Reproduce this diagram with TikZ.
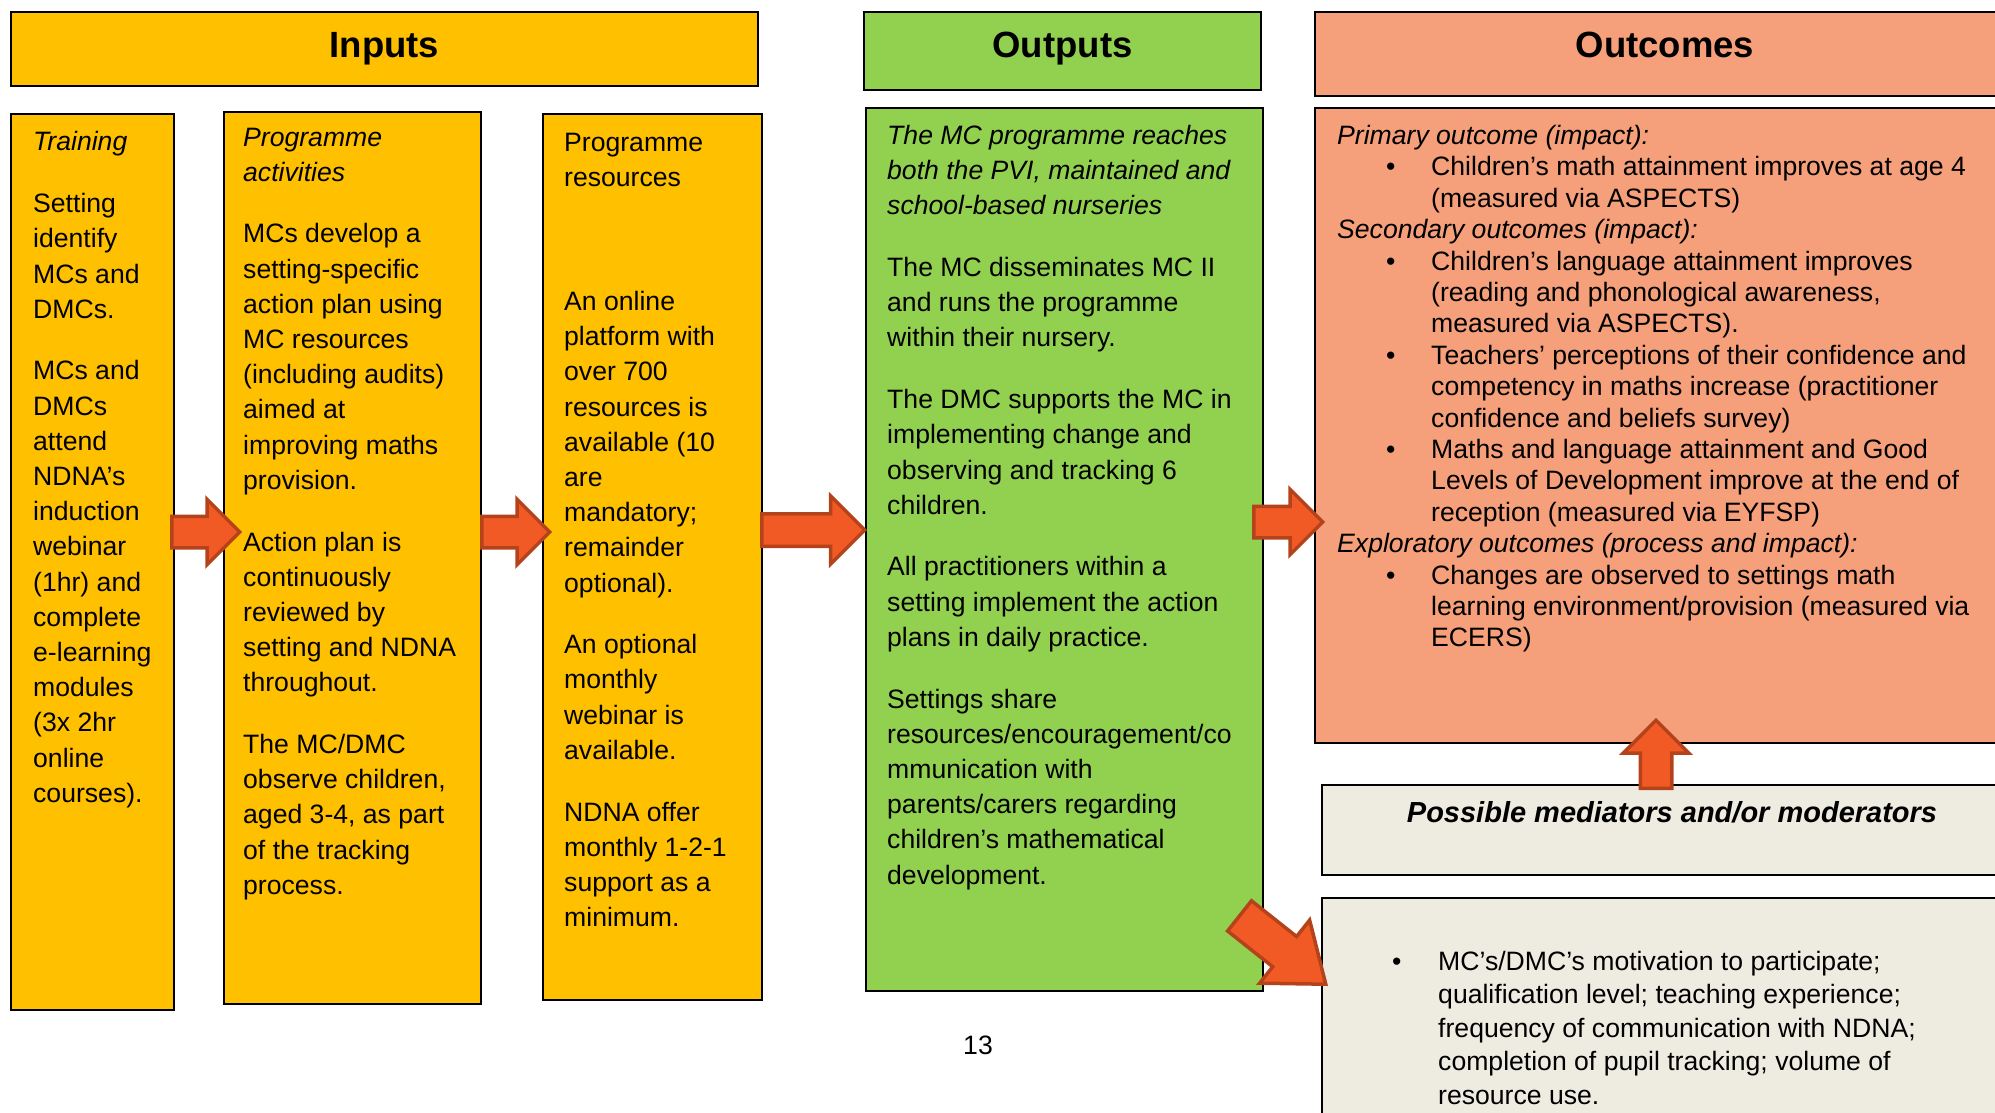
\documentclass[tikz,border=0pt]{standalone}
\usepackage{fontspec}
\setmainfont{Liberation Sans}
\usetikzlibrary{shapes.arrows}

\definecolor{inyellow}{HTML}{FFC000}
\definecolor{outgreen}{HTML}{92D050}
\definecolor{ocsalmon}{HTML}{F5A07A}
\definecolor{medgrey}{HTML}{EEECE1}
\definecolor{arrfill}{HTML}{F15A24}
\definecolor{arrline}{HTML}{B4431B}

\newcommand{\ocitem}{\makebox[94pt][l]{\hspace*{49pt}\textbullet}}
\newcommand{\ocmore}{\hspace*{94pt}}
\newcommand{\meditem}{\makebox[46pt][l]{\textbullet}}
\newcommand{\medmore}{\hspace*{46pt}}

\begin{document}
\begin{tikzpicture}[x=1pt,y=-1pt,
	box/.style={draw=black,line width=2pt,inner sep=0pt,anchor=north west},
	hd/.style={font=\fontsize{36.5}{40}\selectfont\bfseries,inner sep=0pt,anchor=base},
	txt/.style={font=\fontsize{26.6}{35.2}\selectfont,align=left,inner sep=0pt,anchor=north west},
	fat/.style={single arrow,draw=arrline,fill=arrfill,line width=3.5pt,
		inner xsep=0pt,inner ysep=14pt,single arrow head extend=17pt}]

	\fill[white] (0,0) rectangle (1995,1113);
	\useasboundingbox (0,0) rectangle (1995,1113);
	\clip (0,0) rectangle (1995,1113);

	\node[box,fill=inyellow,minimum width=747pt,minimum height=74pt]  (inhead)  at (10,11)  {};
	\node[box,fill=outgreen,minimum width=397pt,minimum height=78pt]  (outhead) at (863,11) {};
	\node[box,fill=ocsalmon,minimum width=700pt,minimum height=84pt]  (ochead)  at (1314,11) {};
	\node[hd] (inlbl)  at (inhead.north |- 0,58)  {Inputs};
	\node[hd] (outlbl) at (outhead.north |- 0,58) {Outputs};
	\node[hd] (oclbl)  at (ochead.north |- 0,58)  {Outcomes};

	\node[box,fill=inyellow,minimum width=163pt,minimum height=896pt] (train)   at (10,113)   {};
	\node[box,fill=inyellow,minimum width=257pt,minimum height=892pt] (act)     at (223,111)  {};
	\node[box,fill=inyellow,minimum width=219pt,minimum height=886pt] (res)     at (542,113)  {};
	\node[box,fill=outgreen,minimum width=397pt,minimum height=883pt] (outbox)  at (865,107)  {};
	\node[box,fill=ocsalmon,minimum width=700pt,minimum height=635pt] (ocbox)   at (1314,107) {};
	\node[box,fill=medgrey,minimum width=700pt,minimum height=90pt]   (medhead) at (1321,784) {};
	\node[box,fill=medgrey,minimum width=700pt,minimum height=240pt]  (medbox)  at (1321,897) {};

	\node[txt] (traintxt) at ([xshift=23pt,yshift=-18.5pt]train.north west) {\textit{Training}\\[26.5pt]
		Setting\\identify\\MCs and\\DMCs.\\[26.5pt]
		MCs and\\DMCs\\attend\\NDNA’s\\induction\\webinar\\(1hr) and\\complete\\e-learning\\modules\\(3x 2hr\\online\\courses).};

	\node[txt] (acttxt) at ([xshift=20pt,yshift=-16.5pt]act.north west) {\textit{Programme}\\\textit{activities}\\[26.5pt]
		MCs develop a\\setting-specific\\action plan using\\MC resources\\(including audits)\\aimed at\\improving maths\\provision.\\[26.5pt]
		Action plan is\\continuously\\reviewed by\\setting and NDNA\\throughout.\\[26.5pt]
		The MC/DMC\\observe children,\\aged 3-4, as part\\of the tracking\\process.};

	\node[txt] (restxt) at ([xshift=22pt,yshift=-19.5pt]res.north west) {Programme\\resources\\[89pt]
		An online\\platform with\\over 700\\resources is\\available (10\\are\\mandatory;\\remainder\\optional).\\[26.5pt]
		An optional\\monthly\\webinar is\\available.\\[26.5pt]
		NDNA offer\\monthly 1-2-1\\support as a\\minimum.};

	\node[txt] (outtxt) at ([xshift=22pt,yshift=-18pt]outbox.north west) {\textit{The MC programme reaches}\\\textit{both the PVI, maintained and}\\\textit{school-based nurseries}\\[26.5pt]
		The MC disseminates MC II\\and runs the programme\\within their nursery.\\[26.5pt]
		The DMC supports the MC in\\implementing change and\\observing and tracking 6\\children.\\[26.5pt]
		All practitioners within a\\setting implement the action\\plans in daily practice.\\[26.5pt]
		Settings share\\resources/encouragement/co\\mmunication with\\parents/carers regarding\\children’s mathematical\\development.};

	\node[txt,font=\fontsize{26.6}{31.4}\selectfont] (octxt) at ([xshift=23pt,yshift=-18pt]ocbox.north west) {\textit{Primary outcome (impact):}\\
		\ocitem Children’s math attainment improves at age 4\\
		\ocmore (measured via ASPECTS)\\
		\textit{Secondary outcomes (impact):}\\
		\ocitem Children’s language attainment improves\\
		\ocmore (reading and phonological awareness,\\
		\ocmore measured via ASPECTS).\\
		\ocitem Teachers’ perceptions of their confidence and\\
		\ocmore competency in maths increase (practitioner\\
		\ocmore confidence and beliefs survey)\\
		\ocitem Maths and language attainment and Good\\
		\ocmore Levels of Development improve at the end of\\
		\ocmore reception (measured via EYFSP)\\
		\textit{Exploratory outcomes (process and impact):}\\
		\ocitem Changes are observed to settings math\\
		\ocmore learning environment/provision (measured via\\
		\ocmore ECERS)};

	\node[inner sep=0pt,anchor=base,font=\fontsize{29}{34}\selectfont\bfseries\itshape] (medlbl) at (medhead.north |- 0,822) {Possible mediators and/or moderators};

	\node[txt,font=\fontsize{26.6}{33.4}\selectfont] (medtxt) at ([xshift=71pt,yshift=-54pt]medbox.north west) {\meditem MC’s/DMC’s motivation to participate;\\
		\medmore qualification level; teaching experience;\\
		\medmore frequency of communication with NDNA;\\
		\medmore completion of pupil tracking; volume of\\
		\medmore resource use.};

	\node[inner sep=0pt,anchor=base,font=\fontsize{26.6}{32}\selectfont] (pgno) at (978,1054) {13};

	\node[fat,minimum height=68pt,anchor=tail]  (a1) at ([xshift=-5pt]train.east |- 0,532) {};
	\node[fat,minimum height=68pt,anchor=tail]  (a2) at ([xshift=-2pt]act.east |- 0,532) {};
	\node[fat,minimum height=103pt,anchor=tail,inner ysep=14.5pt,single arrow head extend=18pt] (a3) at ([xshift=-3pt]res.east |- 0,530) {};
	\node[fat,minimum height=69pt,anchor=tail]  (a4) at ([xshift=-12pt]outbox.east |- 0,522) {};
	\node[fat,minimum height=68pt,anchor=tail,rotate=90] (a5) at ([xshift=-16pt,yshift=-6pt]medhead.north) {};
	\node[fat,minimum height=110pt,anchor=tip,rotate=-38.4,inner ysep=17.5pt,single arrow head extend=21pt,single arrow tip angle=75] (a6) at ([xshift=7pt,yshift=-89pt]medbox.north west) {};

\end{tikzpicture}
\end{document}
